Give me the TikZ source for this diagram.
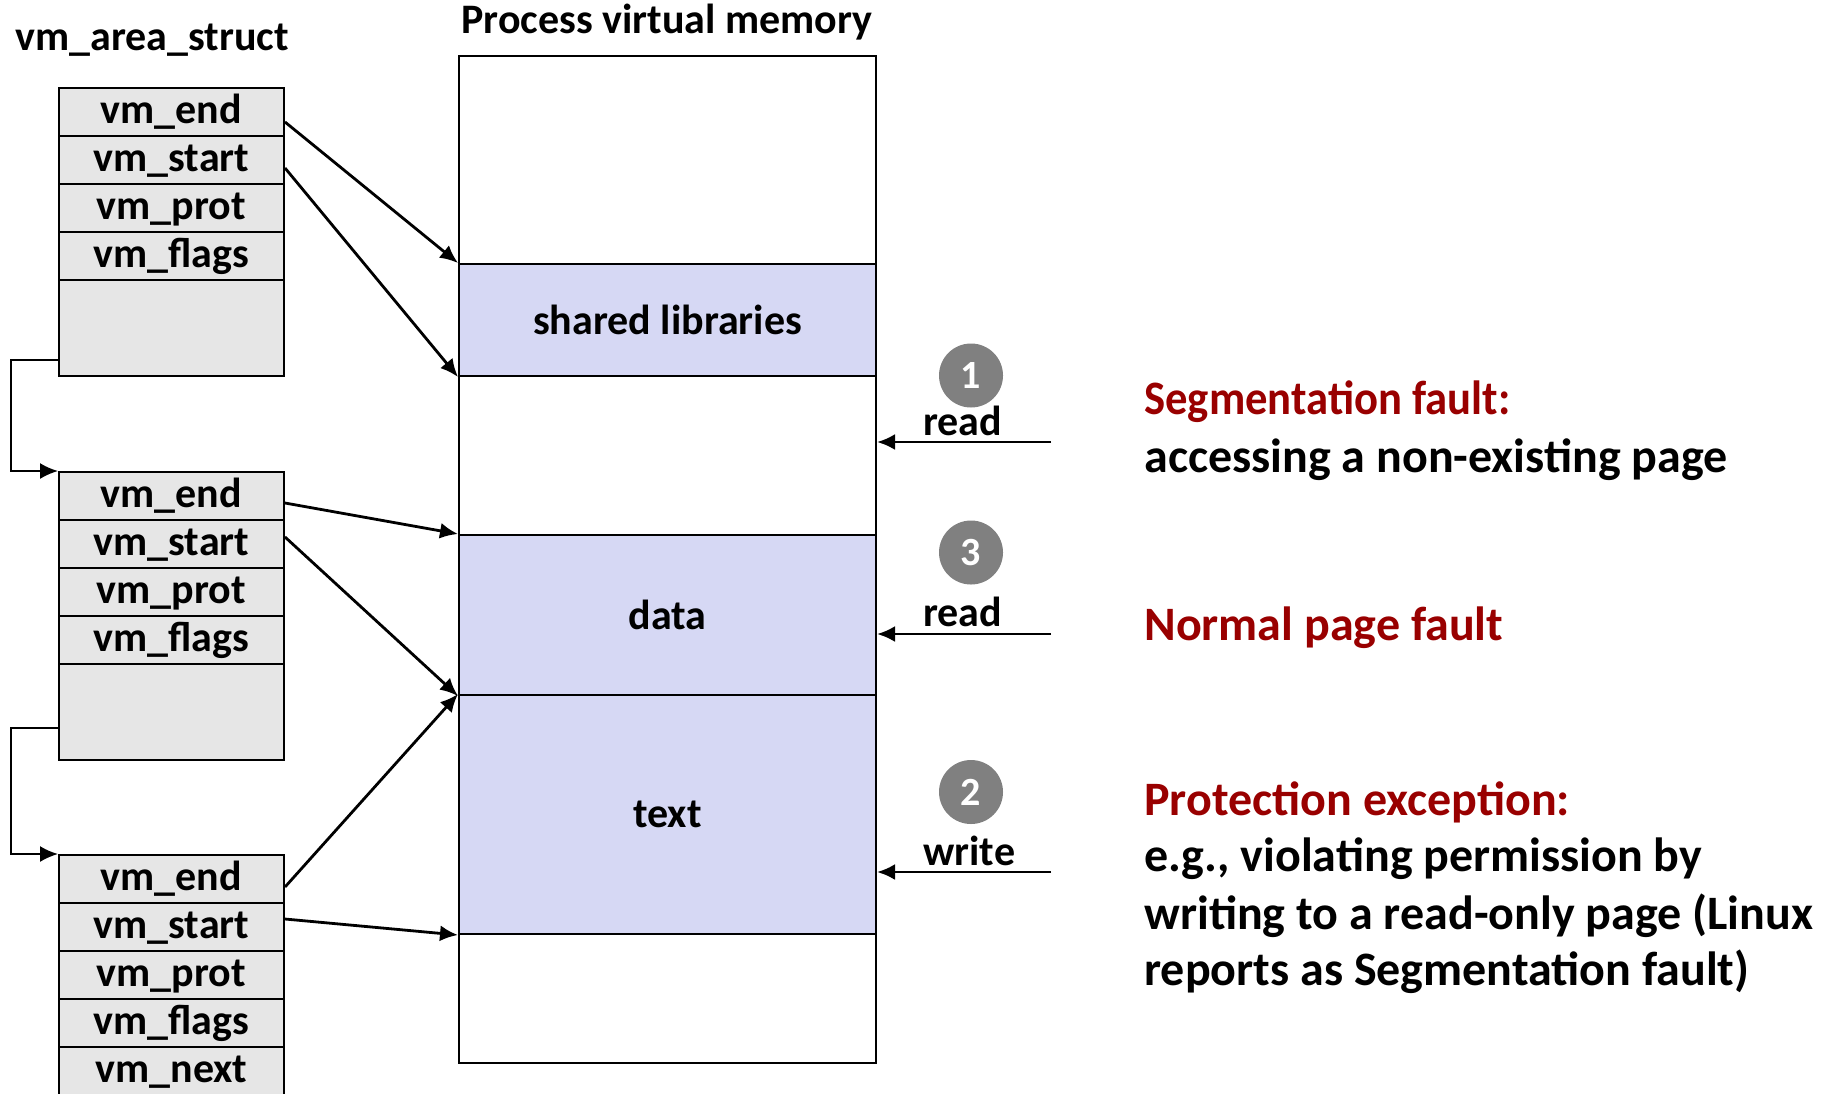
\documentclass[tikz,border=0pt]{standalone}
\usepackage{fontspec}
\setmainfont{Carlito}
\newfontfamily\condfont[FakeStretch=0.93]{Carlito}
\usetikzlibrary{shapes.geometric,arrows.meta,calc}
\definecolor{fieldgray}{RGB}{230,230,230}
\definecolor{memblue}{RGB}{214,216,244}
\definecolor{darkred}{RGB}{153,0,0}
\definecolor{badgegray}{RGB}{128,128,128}
\begin{document}
\begin{tikzpicture}[x=0.5pt,y=-0.5pt,
  txt/.style={font=\fontsize{21}{25}\selectfont\bfseries, inner sep=0pt},
  bigtxt/.style={font=\fontsize{24}{28}\selectfont\bfseries, inner sep=0pt},
  field/.style={txt, draw, line width=1pt, fill=fieldgray, minimum width=112.5pt,
    minimum height=24pt, text height=15pt, text depth=4pt},
  emptyfield/.style={draw, line width=1pt, fill=fieldgray, minimum width=112.5pt, minimum height=48pt, inner sep=0pt},
  region/.style={txt, draw, line width=1pt, fill=memblue, minimum width=208.5pt},
  ptr/.style={line width=1.4pt, -{Latex[length=9pt,width=8pt]}},
  link/.style={line width=1pt, -{Latex[length=9pt,width=8pt]}},
  badge/.style={circle, fill=badgegray, minimum size=32pt, inner sep=0pt,
    text=white, font=\fontsize{20}{22}\selectfont\bfseries},
  redhead/.style={bigtxt, text=darkred, anchor=base west},
  body/.style={bigtxt, anchor=base west},
]
\useasboundingbox (0,0) rectangle (1829,1093);

% titles
\node[txt, anchor=base west] (t1) at (15,50) {vm\_area\_struct};
\node[txt, anchor=base] (t2) at (667,33) {Process virtual memory};

% memory
\node[draw, line width=1pt, fill=white, minimum width=208.5pt, minimum height=503.5pt, inner sep=0pt] (mem) at (667.5,559.5) {};
\node[region, minimum height=56pt] (shlib) at (667.5,320) {shared libraries};
\node[region, minimum height=80pt] (data) at (667.5,615) {data};
\node[region, minimum height=119.5pt] (text) at (667.5,814.5) {text};

% struct 1
\node[field] (a1) at (171.5,112) {vm\_end};
\node[field] (a2) at (171.5,160) {vm\_start};
\node[field] (a3) at (171.5,208) {vm\_prot};
\node[field] (a4) at (171.5,256) {vm\_flags};
\node[emptyfield] (a5) at (171.5,328) {};
% struct 2
\node[field] (b1) at (171.5,496) {vm\_end};
\node[field] (b2) at (171.5,544) {vm\_start};
\node[field] (b3) at (171.5,592) {vm\_prot};
\node[field] (b4) at (171.5,640) {vm\_flags};
\node[emptyfield] (b5) at (171.5,712) {};
% struct 3
\node[field] (c1) at (171.5,879) {vm\_end};
\node[field] (c2) at (171.5,927) {vm\_start};
\node[field] (c3) at (171.5,975) {vm\_prot};
\node[field] (c4) at (171.5,1023) {vm\_flags};
\node[field] (c5) at (171.5,1071) {vm\_next};

% list links
\draw[link] ($(a5.west)+(0,32)$) -- ++(-47,0) |- (b1.north west);
\draw[link] ($(b5.west)+(0,16)$) -- ++(-47,0) |- (c1.north west);

% pointers
\draw[ptr] ($(a1.east)+(0,10)$) -- (shlib.north west);
\draw[ptr] ($(a2.east)+(0,8)$) -- (shlib.south west);
\draw[ptr] ($(b1.east)+(0,7)$) -- (data.north west);
\draw[ptr] ($(b2.east)+(0,-7)$) -- (data.south west);
\draw[ptr] ($(c1.east)+(0,8)$) -- (text.north west);
\draw[ptr] ($(c2.east)+(0,-8)$) -- (text.south west);

% accesses
\coordinate (q1) at (1051,442);
\coordinate (q3) at (1051,634);
\coordinate (q2) at (1051,872);
\draw[ptr] (q1) -- (q1 -| mem.east);
\draw[ptr] (q3) -- (q3 -| mem.east);
\draw[ptr] (q2) -- (q2 -| mem.east);
\node[txt, anchor=base west] (r1) at (923,435) {read};
\node[txt, anchor=base west] (r3) at (923,626) {read};
\node[txt, anchor=base west] (r2) at (923,865) {write};
\node[badge] (n1) at (971,375.5) {1};
\node[badge] (n3) at (971,552.5) {3};
\node[badge] (n2) at (971,792) {2};

% explanations
\node[redhead, font=\fontsize{24}{28}\selectfont\bfseries\condfont] (h1) at (1144,414) {Segmentation fault:};
\node[body] (d1) at (1144,472) {accessing a non-existing page};
\node[redhead] (h2) at (1144,640) {Normal page fault};
\node[redhead] (h3) at (1144,815) {Protection exception:};
\node[body] (d3a) at (1144,871) {e.g., violating permission by};
\node[body] (d3b) at (1144,929) {writing to a read-only page (Linux};
\node[body] (d3c) at (1144,985) {reports as Segmentation fault)};
\end{tikzpicture}
\end{document}
